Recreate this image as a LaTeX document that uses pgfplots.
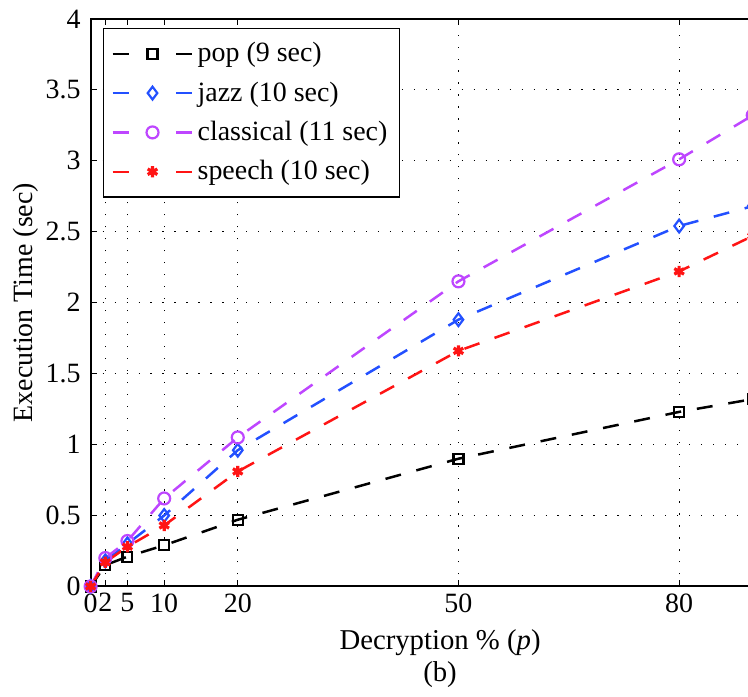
\documentclass[border=0pt]{standalone}
\usepackage{pgfplots}
\pgfplotsset{compat=1.18}
\usepackage{fontspec}
\setmainfont{Liberation Serif}
\usetikzlibrary{calc}
\definecolor{cblue}{RGB}{35,80,255}
\definecolor{cpurple}{RGB}{190,70,255}
\definecolor{cred}{RGB}{255,20,20}
\begin{document}
\begin{tikzpicture}
\begin{axis}[
  scale only axis, width=350.3pt, height=284.5pt,
  xmin=0, xmax=95, ymin=0, ymax=4,
  xtick={0,2,5,10,20,50,80},
  ytick={0,0.5,1,1.5,2,2.5,3,3.5,4},
  yticklabels={0,0.5,1,1.5,2,2.5,3,3.5,4},
  grid=major,
  grid style={black, line width=0.6pt, dash pattern=on 0.6pt off 5.4pt},
  axis line style={line width=1pt, black},
  tick style={black, line width=0.6pt},
  major tick length=3pt,
  tick align=inside,
  /pgf/number format/assume math mode=true,
  font=\fontsize{14}{17}\selectfont,
  tick label style={font=\fontsize{14}{17}\selectfont},
  yticklabel style={xshift=-1.5pt},
  xlabel={Decryption \% (\textit{p})\\(b)},
  xlabel style={align=center, font=\fontsize{14.4}{16}\selectfont, yshift=-2pt},
  ylabel={Execution Time (sec)},
  ylabel style={yshift=-3pt},
  legend cell align=left,
  legend style={at={(0,1)}, anchor=north west, xshift=6pt, yshift=-4.5pt,
    draw=black, line width=0.8pt, fill=white, font=\fontsize{14}{17}\selectfont,
    row sep=4.5pt, inner xsep=4pt, inner ysep=5pt},
  legend image code/.code={\draw[mark repeat=2,mark phase=2,#1,dash pattern=on 8pt off 24pt] plot coordinates {(0pt,0pt) (20pt,0pt) (40pt,0pt)};},
  every axis plot/.append style={line width=1.25pt, dash pattern=on 8pt off 8pt},
]
\addplot[black, mark=square, mark size=2.5pt, mark options={solid, line width=1.1pt}]
  coordinates {(0,0)(2,0.15)(5,0.21)(10,0.29)(20,0.47)(50,0.90)(80,1.23)(90,1.32)};
\addlegendentry{pop (9 sec)}
\addplot[cblue, mark=diamond, mark size=3.2pt, mark options={solid, line width=1.1pt}]
  coordinates {(0,0)(2,0.18)(5,0.30)(10,0.50)(20,0.96)(50,1.88)(80,2.54)(90,2.68)};
\addlegendentry{jazz (10 sec)}
\addplot[cpurple, mark=o, mark size=3pt, mark options={solid, line width=1.1pt}]
  coordinates {(0,0)(2,0.20)(5,0.32)(10,0.62)(20,1.05)(50,2.15)(80,3.01)(90,3.32)};
\addlegendentry{classical (11 sec)}
\addplot[cred, mark=asterisk, mark size=2.8pt, mark options={solid, line width=1.6pt}]
  coordinates {(0,0)(2,0.17)(5,0.28)(10,0.43)(20,0.81)(50,1.66)(80,2.22)(90,2.47)};
\addlegendentry{speech (10 sec)}
\coordinate (R) at (axis cs:89.36,4);
\end{axis}
\pgfresetboundingbox
\path[use as bounding box] ($(current axis.outer south west)+(-3pt,-1pt)$) rectangle ($(R |- current axis.outer north east)+(0,1.5pt)$);
\end{tikzpicture}
\end{document}
